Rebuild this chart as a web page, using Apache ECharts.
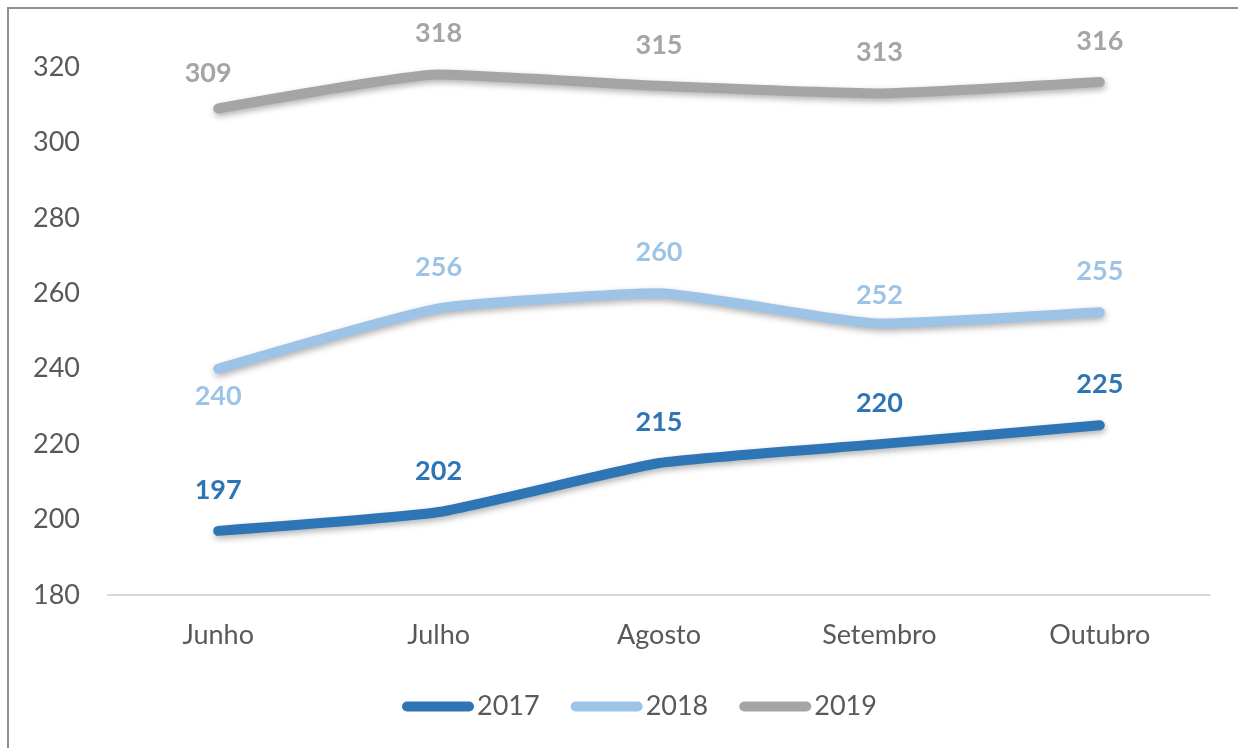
<!DOCTYPE html>
<html>
<head>
<meta charset="utf-8">
<script src="https://cdn.jsdelivr.net/npm/echarts@6/dist/echarts.min.js"></script>
<style>
  html, body { margin: 0; padding: 0; background: #fff; overflow: hidden; }
  #main { width: 1238px; height: 748px; }
  #frame { position: absolute; left: 7px; top: 7px; width: 1260px; height: 780px; border: 2px solid #8f8f8f; pointer-events: none; }
</style>
</head>
<body>
<div id="main"></div>
<div id="frame"></div>
<script>
// dados
var meses = ['Junho', 'Julho', 'Agosto', 'Setembro', 'Outubro'];
var anos = ['2017', '2018', '2019'];
var v2017 = [197, 202, 215, 220, 225];
var v2018 = [240, 256, 260, 252, 255];
var v2019 = [309, 318, 315, 313, 316];
var cores = ['#2E75B6', '#9DC3E6', '#A5A5A5'];

var fonte = 'Lato';

// rótulos fora do padrão (posição)
function pontos(valores, ajustes) {
    return valores.map(function (v, i) {
        if (ajustes && ajustes[i]) return { value: v, label: ajustes[i] };
        return v;
    });
}

function serie(nome, valores, cor, ajustes) {
    return {
        name: nome,
        type: 'line',
        data: pontos(valores, ajustes),
        smooth: 0.15,
        symbol: 'circle',
        symbolSize: 1,
        itemStyle: { color: cor },
        lineStyle: {
            color: cor,
            width: 10,
            cap: 'round',
            join: 'round',
            shadowColor: 'rgba(0,0,0,0.3)',
            shadowBlur: 6,
            shadowOffsetX: 1,
            shadowOffsetY: 3
        },
        label: {
            show: true,
            position: 'top',
            distance: 27,
            color: cor,
            fontFamily: fonte,
            fontWeight: 'bold',
            fontSize: 27
        },
        emphasis: { disabled: true }
    };
}

var myChart = echarts.init(document.getElementById('main'));
myChart.setOption({
    animation: false,
    color: cores,
    grid: { left: 108, right: 28, top: 67, bottom: 153 },
    legend: {
        data: anos,
        top: 688,
        left: 397,
        icon: 'path://M5,0 H67 A5,5 0 0 1 67,10 H5 A5,5 0 0 1 5,0 Z',
        itemWidth: 72,
        itemHeight: 10,
        itemGap: 31,
        textStyle: { color: '#595959', fontFamily: fonte, fontSize: 27, padding: [0, 0, 0, -2] }
    },
    xAxis: {
        type: 'category',
        data: meses,
        boundaryGap: true,
        axisTick: { show: false },
        axisLine: { lineStyle: { color: '#D9D9D9', width: 2 } },
        axisLabel: { color: '#595959', fontFamily: fonte, fontSize: 27, margin: 27 }
    },
    yAxis: {
        type: 'value',
        min: 180,
        max: 320,
        interval: 20,
        splitLine: { show: false },
        axisLine: { show: false },
        axisTick: { show: false },
        axisLabel: { color: '#595959', fontFamily: fonte, fontSize: 27, margin: 28 }
    },
    series: [
        serie('2017', v2017, cores[0]),
        serie('2018', v2018, cores[1], { 0: { position: 'bottom', distance: 14 }, 3: { distance: 14 } }),
        serie('2019', v2019, cores[2], { 0: { distance: 21, offset: [-10, 0] } })
    ]
});
</script>
</body>
</html>
